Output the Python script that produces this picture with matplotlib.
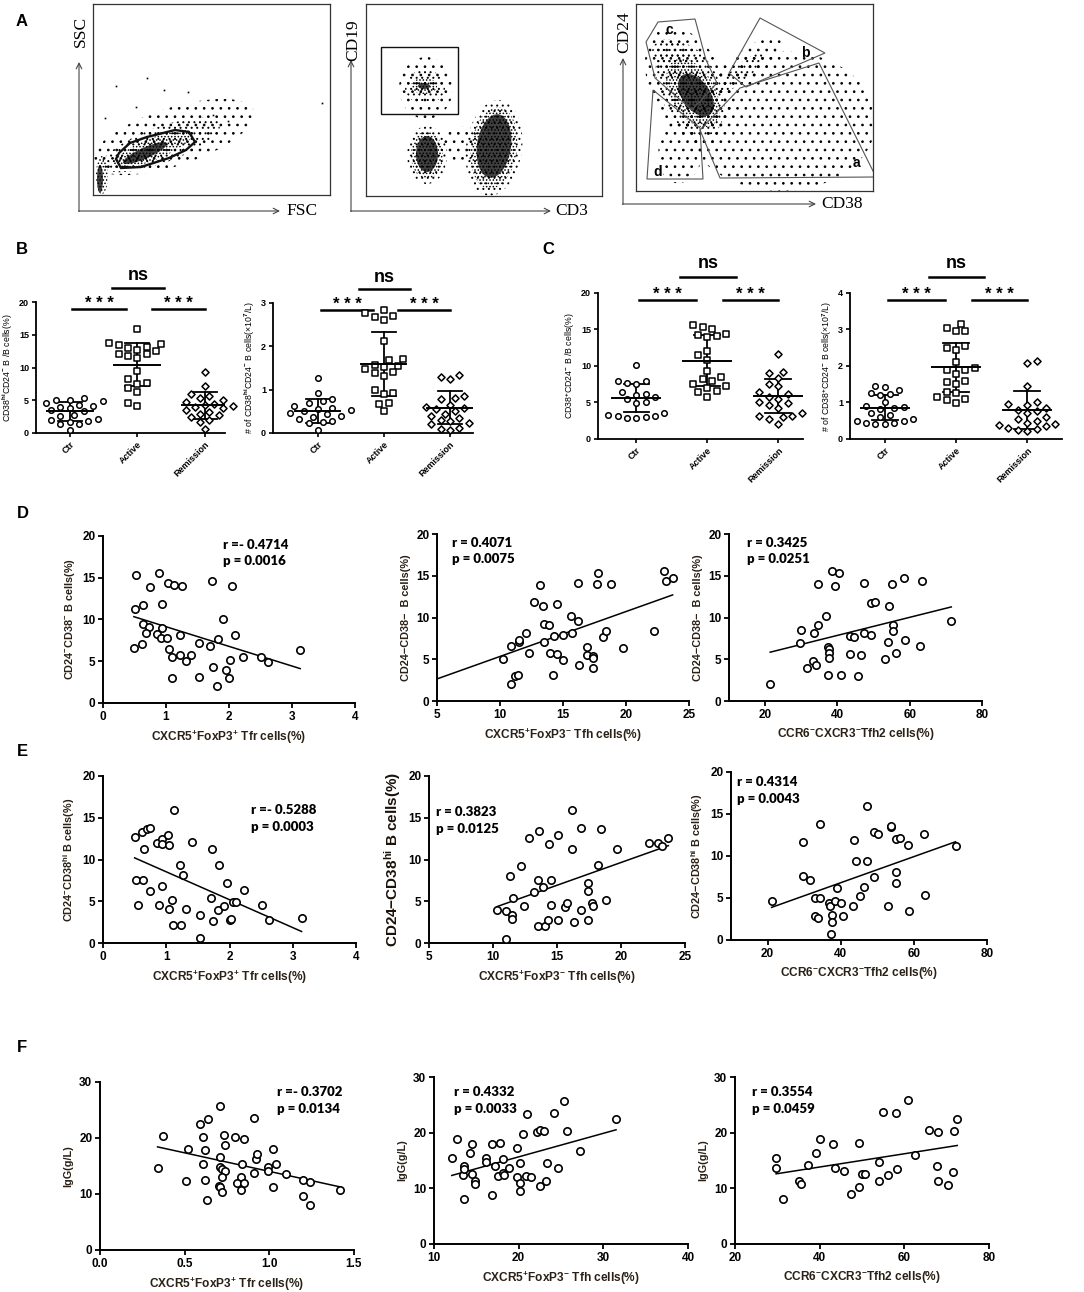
import numpy as np
import matplotlib
matplotlib.use('Agg')
import matplotlib.pyplot as plt
from matplotlib.patches import Ellipse, Polygon, Rectangle
from matplotlib.transforms import blended_transform_factory

plt.rcParams['font.family'] = ['Liberation Sans', 'DejaVu Sans']
plt.rcParams['font.weight'] = 'bold'
plt.rcParams['mathtext.fontset'] = 'custom'
plt.rcParams['mathtext.rm'] = 'Liberation Sans:bold'
plt.rcParams['mathtext.it'] = 'Liberation Sans:bold'
plt.rcParams['mathtext.bf'] = 'Liberation Sans:bold'
plt.rcParams['mathtext.default'] = 'bf'
plt.rcParams['hatch.linewidth'] = 0.7

W, H = 1084, 1292

# ---------------- panel A: flow cytometry (populations) -------------
# blobs: (centre x, centre y, width, height, angle, density) in plot-local pixel units
a1_blobs = [(80, 58, 170, 58, 18, 'faint'), (68, 50, 125, 36, 20, 'sparse'),
            (60, 46, 85, 22, 22, 'mid'), (52, 42, 48, 11, 24, 'dense'),
            (9, 20, 12, 38, 0, 'mid'), (7, 16, 6, 28, 0, 'dense')]
a1_dots = [(54, 117), (23, 109), (71, 105), (95, 103), (43, 88), (12, 77), (229, 92), (120, 80), (135, 74)]
a1_gate = [(23, 36), (28, 27), (48, 28), (76, 37), (93, 45), (102, 53), (96, 63),
           (82, 65), (54, 58), (37, 52), (26, 42)]

a2_blobs = [(60, 108, 54, 62, 0, 'faint'), (59, 109, 40, 34, 0, 'sparse'),
            (58, 110, 26, 16, 0, 'mid'), (58, 110, 12, 6, 0, 'dense'),
            (94, 52, 40, 35, 0, 'faint'),
            (61, 41, 40, 58, 0, 'sparse'), (61, 41, 32, 48, 0, 'mid'), (61, 42, 22, 36, 0, 'dense'),
            (128, 48, 56, 96, -8, 'sparse'), (128, 48, 46, 82, -8, 'mid'), (128, 50, 34, 64, -8, 'dense')]
a2_gate_rect = (15, 82, 77, 67)

a3_blobs = [(145, 70, 190, 140, 0, 'vfaint'), (45, 40, 45, 65, -10, 'faint'),
            (52, 105, 125, 75, -65, 'faint'), (54, 102, 100, 60, -65, 'sparse'),
            (57, 98, 75, 44, -60, 'mid'), (60, 96, 48, 28, -55, 'dense'), (35, 135, 40, 30, -30, 'sparse'),
            (110, 124, 90, 30, 40, 'faint'), (105, 118, 60, 16, 40, 'sparse')]
a3_gates = {'c': [(22, 169), (59, 172), (70, 131), (81, 108), (56, 81), (19, 113), (10, 149)],
            'b': [(93, 118), (124, 173), (189, 138), (110, 104)],
            'a': [(104, 103), (183, 128), (240, 14), (84, 13), (64, 61)],
            'd': [(17, 101), (64, 63), (67, 12), (11, 12)]}
a3_gate_labels = {'c': (33, 161), 'b': (169, 138), 'a': (220, 28), 'd': (22, 19)}

# ---------------- panels B, C: group dot plots -----------------
groups = ['Ctr', 'Active', 'Remission']

b1_ctr = [5.4, 5.1, 4.9, 5.0, 4.6, 4.3, 4.1, 4.0, 3.8, 3.5, 3.3, 2.8, 2.6, 2.2, 2.0, 1.8, 1.7, 1.4, 1.3, 0.5]
b1_act = [15.9, 13.8, 13.6, 13.4, 13.2, 13.0, 12.7, 12.5, 12.0, 12.1, 11.8, 11.5, 9.5, 8.2, 7.6, 7.5, 6.8, 6.3, 4.6, 4.1]
b1_rem = [9.3, 7.2, 6.0, 5.6, 5.3, 5.0, 4.8, 4.5, 4.3, 4.1, 4.0, 3.8, 3.5, 3.2, 2.9, 2.7, 2.4, 2.0, 1.7, 0.6]
b1_mean = [3.3, 10.4, 4.2]
b1_sd = [1.5, 3.3, 2.0]

b2_ctr = [1.28, 0.93, 0.78, 0.74, 0.70, 0.63, 0.58, 0.56, 0.52, 0.50, 0.47, 0.43, 0.40, 0.38, 0.33, 0.27, 0.25, 0.22, 0.08]
b2_act = [2.83, 2.78, 2.70, 2.68, 2.60, 2.12, 1.70, 1.68, 1.58, 1.55, 1.52, 1.48, 1.40, 1.38, 1.32, 1.00, 0.93, 0.90, 0.70, 0.68, 0.50]
b2_rem = [1.35, 1.30, 1.25, 0.85, 0.80, 0.78, 0.65, 0.60, 0.58, 0.55, 0.50, 0.45, 0.40, 0.35, 0.30, 0.28, 0.22, 0.20, 0.12, 0.10, 0.08]
b2_mean = [0.50, 1.60, 0.58]
b2_sd = [0.28, 0.74, 0.38]

c1_ctr = [10.2, 8.0, 7.9, 7.7, 7.5, 6.5, 6.2, 6.0, 5.8, 5.5, 5.1, 4.9, 3.5, 3.3, 3.2, 3.1, 3.0, 2.9, 2.9]
c1_act = [15.6, 15.3, 15.0, 14.4, 14.2, 14.1, 14.0, 12.0, 11.5, 10.8, 9.3, 8.5, 8.2, 8.0, 7.5, 7.3, 7.0, 6.6, 6.5, 5.8]
c1_rem = [11.7, 9.2, 9.0, 8.3, 7.6, 7.2, 6.5, 6.2, 5.8, 5.5, 5.0, 4.9, 4.7, 4.3, 3.6, 3.2, 3.1, 3.0, 2.8, 2.0]
c1_mean = [5.6, 10.7, 5.85]
c1_sd = [1.95, 3.5, 2.35]

c2_ctr = [1.45, 1.42, 1.35, 1.25, 1.22, 1.20, 1.00, 0.90, 0.88, 0.85, 0.82, 0.70, 0.65, 0.60, 0.55, 0.50, 0.50, 0.45, 0.45, 0.42, 0.40]
c2_act = [3.15, 3.05, 2.95, 2.95, 2.55, 2.50, 2.45, 2.10, 1.95, 1.90, 1.88, 1.78, 1.60, 1.55, 1.50, 1.30, 1.25, 1.15, 1.10, 1.08, 0.98]
c2_rem = [2.15, 2.08, 1.45, 1.00, 0.95, 0.92, 0.85, 0.80, 0.78, 0.70, 0.60, 0.55, 0.50, 0.45, 0.40, 0.38, 0.35, 0.30, 0.28, 0.25, 0.22]
c2_mean = [0.86, 1.96, 0.80]
c2_sd = [0.35, 0.66, 0.52]

# ---------------- panels D, E, F: correlations -----------------
d1_pts = [(0.53, 15.3), (0.89, 15.6), (0.75, 13.9), (1.03, 14.4), (1.13, 14.1), (1.25, 14.0), (1.73, 14.6),
          (2.05, 14.0), (0.51, 11.3), (0.64, 11.7), (0.94, 11.9), (1.90, 10.1), (0.64, 9.5), (0.73, 9.1),
          (0.94, 9.0), (0.69, 8.4), (0.85, 8.3), (0.92, 7.8), (1.02, 7.8), (1.22, 8.1), (1.83, 7.7),
          (2.09, 8.2), (0.49, 6.6), (0.62, 7.1), (1.04, 6.5), (1.53, 7.2), (1.70, 6.8), (1.10, 5.5),
          (1.23, 5.8), (1.40, 5.7), (1.31, 5.0), (2.22, 5.5), (2.51, 5.5), (2.62, 4.9), (2.01, 5.1),
          (1.74, 4.3), (1.95, 3.9), (2.00, 3.0), (1.53, 3.1), (1.09, 3.0), (1.81, 2.0), (3.13, 6.4)]
d2_pts = [(10.2, 5.0), (10.9, 2.0), (10.9, 6.6), (11.2, 3.0), (11.4, 3.1), (11.5, 7.1), (11.5, 7.3),
          (12.1, 8.2), (12.3, 5.8), (12.7, 11.9), (13.2, 13.9), (13.4, 11.4), (13.5, 9.2), (13.5, 7.1),
          (13.9, 9.1), (14.0, 5.8), (14.2, 3.1), (14.3, 7.8), (14.5, 11.6), (14.5, 5.6), (15.0, 7.9),
          (15.0, 4.9), (15.6, 10.2), (15.7, 8.2), (16.2, 9.6), (16.2, 14.1), (16.3, 4.3), (16.9, 6.5),
          (16.9, 5.5), (17.4, 5.4), (17.4, 5.1), (17.4, 3.9), (17.8, 15.3), (17.7, 14.0), (18.8, 14.0),
          (18.2, 7.7), (18.4, 8.4), (19.8, 6.4), (22.2, 8.4), (23.0, 15.6), (23.2, 14.4), (23.7, 14.7)]
d3_pts = [(21.4, 2.0), (29.7, 6.9), (30.0, 8.5), (31.7, 3.9), (33.2, 4.8), (33.4, 8.1), (34.0, 4.3),
          (34.6, 9.1), (34.6, 14.0), (36.9, 10.2), (37.4, 3.1), (37.5, 6.5), (37.7, 6.2), (37.7, 5.7),
          (37.8, 5.1), (38.5, 15.6), (39.4, 13.8), (40.3, 15.3), (40.9, 3.1), (43.5, 7.8), (43.5, 5.6),
          (44.5, 7.7), (45.6, 3.0), (46.5, 5.5), (47.4, 8.2), (47.4, 14.1), (49.4, 7.9), (49.4, 11.7),
          (50.3, 11.9), (53.2, 5.0), (53.9, 7.1), (54.2, 11.4), (55.2, 14.0), (55.4, 9.1), (55.4, 8.4),
          (56.3, 5.8), (58.3, 14.7), (58.8, 7.3), (62.8, 6.6), (63.3, 14.4), (71.5, 9.6)]
e1_pts = [(0.50, 12.7), (0.62, 13.3), (0.70, 13.6), (0.74, 13.8), (0.65, 11.2), (0.85, 12.0), (0.93, 12.5),
          (0.93, 11.8), (1.03, 12.9), (1.04, 11.7), (1.13, 15.9), (1.41, 12.1), (1.73, 11.3), (1.22, 9.3),
          (1.26, 8.1), (1.83, 9.3), (0.52, 7.6), (0.64, 7.6), (0.75, 6.2), (0.94, 6.8), (1.96, 7.2),
          (0.55, 4.5), (0.89, 4.5), (1.04, 4.1), (1.09, 5.2), (1.32, 4.1), (1.11, 2.1), (1.24, 2.1),
          (1.54, 3.4), (1.70, 5.4), (1.74, 2.6), (1.53, 0.6), (1.82, 3.9), (1.92, 4.4), (2.00, 2.8),
          (2.03, 2.9), (2.06, 4.9), (2.11, 4.9), (2.23, 6.3), (2.52, 4.6), (2.63, 2.8), (3.14, 3.0)]
e2_pts = [(10.3, 4.0), (11.0, 0.5), (11.0, 3.8), (11.3, 8.0), (11.5, 3.4), (11.5, 2.9), (11.6, 5.4),
          (12.4, 4.4), (12.2, 9.2), (12.8, 12.6), (13.2, 6.1), (13.5, 7.5), (13.6, 13.4), (13.5, 2.0),
          (13.9, 6.7), (14.1, 2.0), (14.3, 2.7), (14.4, 11.8), (14.5, 4.6), (14.5, 7.5), (15.1, 2.7),
          (15.1, 12.9), (15.6, 4.3), (15.8, 4.8), (16.2, 15.9), (16.2, 11.2), (16.3, 2.5), (16.9, 13.8),
          (16.9, 4.0), (17.4, 7.2), (17.4, 6.2), (17.4, 2.8), (17.7, 4.8), (17.8, 4.4), (18.4, 13.6),
          (18.2, 9.3), (18.8, 5.1), (19.7, 11.3), (22.2, 12.0), (22.9, 12.0), (23.2, 11.6), (23.7, 12.6)]
e3_pts = [(21.1, 4.65), (29.7, 11.7), (29.8, 7.6), (31.5, 7.2), (33.1, 5.0), (33.1, 2.9), (33.8, 2.6),
          (34.4, 5.0), (34.4, 13.8), (36.7, 4.45), (37.2, 4.1), (37.7, 3.0), (37.7, 2.1), (37.4, 0.7),
          (38.4, 4.6), (39.0, 6.2), (40.1, 4.45), (40.7, 2.8), (43.4, 4.0), (43.5, 11.85), (44.3, 9.35),
          (45.4, 5.2), (46.4, 6.3), (47.3, 9.35), (47.1, 15.9), (49.0, 12.9), (49.2, 7.55), (50.1, 12.6),
          (53.0, 4.1), (53.8, 13.4), (53.8, 13.6), (55.0, 8.15), (55.1, 12.0), (55.1, 6.8), (56.2, 12.1),
          (58.4, 11.3), (58.6, 3.4), (62.7, 12.6), (63.1, 5.4), (71.4, 11.2)]
f1_pts = [(0.34, 14.7), (0.37, 20.3), (0.51, 12.4), (0.52, 18.1), (0.59, 22.5), (0.64, 23.4), (0.61, 20.2),
          (0.62, 17.9), (0.61, 15.3), (0.62, 12.5), (0.63, 8.9), (0.71, 25.7), (0.71, 16.6), (0.71, 14.9),
          (0.72, 14.4), (0.74, 14.1), (0.72, 13.1), (0.70, 11.4), (0.71, 11.3), (0.72, 10.4), (0.73, 20.5),
          (0.74, 18.7), (0.80, 20.1), (0.85, 19.8), (0.84, 15.3), (0.83, 13.0), (0.81, 12.0), (0.85, 12.0),
          (0.83, 10.7), (0.91, 23.6), (0.92, 16.2), (0.93, 17.2), (0.91, 13.7), (0.99, 14.9), (0.99, 14.1),
          (1.02, 18.0), (1.04, 15.3), (1.02, 11.3), (1.10, 13.6), (1.20, 12.5), (1.20, 9.6), (1.24, 8.1),
          (1.24, 12.2), (1.42, 10.8)]
f2_pts = [(12.1, 15.4), (12.7, 18.8), (13.4, 12.4), (13.5, 14.0), (13.5, 13.4), (13.5, 8.0), (14.3, 16.3),
          (14.5, 17.9), (14.5, 12.6), (14.9, 11.3), (14.9, 10.7), (16.1, 15.5), (16.1, 14.8), (16.9, 17.9),
          (16.9, 8.8), (17.2, 14.0), (17.6, 12.2), (17.8, 18.1), (18.2, 15.2), (18.2, 12.8), (18.3, 12.4),
          (18.9, 13.7), (19.8, 17.3), (19.8, 12.1), (20.1, 11.0), (20.1, 9.5), (20.2, 14.6), (20.5, 19.7),
          (20.9, 12.2), (21.0, 23.4), (21.4, 12.1), (22.2, 20.1), (22.5, 20.4), (23.0, 20.3), (22.5, 10.4),
          (23.2, 11.4), (23.4, 14.6), (24.2, 23.6), (24.7, 13.6), (25.4, 25.7), (25.7, 20.3), (27.3, 16.7),
          (31.5, 22.4)]
f3_pts = [(29.7, 13.7), (29.8, 15.4), (31.4, 8.1), (35.2, 11.4), (35.6, 10.8), (37.3, 14.2), (39.1, 16.3),
          (40.0, 18.8), (43.2, 17.9), (43.6, 13.6), (45.7, 13.2), (47.5, 8.9), (49.3, 18.1), (49.3, 10.3),
          (50.1, 12.5), (50.6, 12.5), (54.0, 14.8), (54.0, 11.4), (55.0, 23.7), (56.2, 12.4), (58.1, 23.6),
          (58.3, 13.4), (60.9, 25.8), (62.6, 16.0), (65.8, 20.5), (68.0, 20.2), (67.8, 14.1), (68.0, 11.3),
          (70.4, 10.6), (71.5, 12.9), (71.7, 20.3), (72.5, 22.5)]

stats = {'d1': 'r =- 0.4714\np = 0.0016', 'd2': 'r = 0.4071\np = 0.0075', 'd3': 'r = 0.3425\np = 0.0251',
         'e1': 'r =- 0.5288\np = 0.0003', 'e2': 'r = 0.3823\np = 0.0125', 'e3': 'r = 0.4314\np = 0.0043',
         'f1': 'r =- 0.3702\np = 0.0134', 'f2': 'r = 0.4332\np = 0.0033', 'f3': 'r = 0.3554\np = 0.0459'}

fig = plt.figure(figsize=(W / 100, H / 100), dpi=100)
fig.patch.set_facecolor('white')


def ax_px(l, t, r, b):
    return fig.add_axes([l / W, 1 - b / H, (r - l) / W, (b - t) / H])


def bold_ticks(ax):
    for lbl in ax.get_xticklabels() + ax.get_yticklabels():
        lbl.set_fontweight('bold')


HATCH = {'vfaint': '..', 'faint': '..', 'sparse': '...', 'mid': '.....'}


def flow_plot(rect, blobs, dots=(), gates=(), gate_lw=0.8, gate_color='#555555'):
    ax = ax_px(*rect)
    w, h = rect[2] - rect[0], rect[3] - rect[1]
    ax.set_xlim(0, w)
    ax.set_ylim(0, h)
    ax.set_xticks([])
    ax.set_yticks([])
    for s in ax.spines.values():
        s.set_linewidth(0.9)
        s.set_color('#333333')
    for cx, cy, bw, bh, ang, lev in blobs:
        if lev == 'dense':
            e = Ellipse((cx, cy), bw, bh, angle=ang, facecolor='black', edgecolor='none', alpha=0.75)
        else:
            e = Ellipse((cx, cy), bw, bh, angle=ang, facecolor='none', edgecolor='black',
                        lw=0, hatch=HATCH[lev])
        ax.add_patch(e)
    if dots:
        dx, dy = zip(*dots)
        ax.plot(dx, dy, 's', ms=1.2, color='black', mew=0)
    for g in gates:
        ax.add_patch(Polygon(g, closed=True, fill=False, lw=gate_lw, edgecolor=gate_color))
    return ax


def swarm(vals, ppy, ppx, d):
    vals = np.asarray(vals, float)
    order = np.argsort(vals)
    pts = []
    offs = np.zeros(len(vals))
    flip = 1
    for i in order:
        y = vals[i] * ppy
        k = 0
        found = None
        while found is None:
            cands = [0.0] if k == 0 else [flip * k * d * 0.6, -flip * k * d * 0.6]
            for c in cands:
                if all((c - px) ** 2 + (y - py) ** 2 >= d * d for px, py in pts):
                    found = c
                    break
            k += 1
        flip = -flip
        pts.append((found, y))
        offs[i] = found / ppx
    return offs


def group_plot(rect, data, means, sds, ylim, yticks, ylabel, xlim):
    ax = ax_px(*rect)
    ax.set_xlim(*xlim)
    ax.set_ylim(*ylim)
    bb = ax.get_position()
    ppy = bb.height * H / (ylim[1] - ylim[0])
    ppx = bb.width * W / (xlim[1] - xlim[0])
    markers = ['o', 's', 'D']
    sizes = [16, 18, 13]
    for i, (vals, m, s) in enumerate(zip(data, means, sds)):
        offs = swarm(vals, ppy, ppx, 7.8)
        ax.plot([i, i], [m - s, m + s], color='black', lw=1.3, zorder=2)
        for yy in (m - s, m + s):
            ax.plot([i - 0.18, i + 0.18], [yy, yy], color='black', lw=1.3, zorder=2)
        ax.scatter(i + offs, vals, marker=markers[i], s=sizes[i], facecolor='white',
                   edgecolor='black', linewidth=1.1, zorder=3, clip_on=False)
        ax.plot([i - 0.34, i + 0.34], [m, m], color='black', lw=1.4, zorder=4)
    ax.spines[['top', 'right']].set_visible(False)
    ax.spines[['left', 'bottom']].set_linewidth(1.3)
    ax.set_yticks(yticks)
    ax.set_xticks(range(3))
    ax.set_xticklabels(groups, rotation=45, ha='right', rotation_mode='anchor', fontsize=6.5)
    ax.tick_params(labelsize=6.5, width=1.2, length=3, pad=2)
    bold_ticks(ax)
    ax.set_ylabel(ylabel, fontsize=6.3, labelpad=3)
    tr = blended_transform_factory(ax.transData, ax.transAxes)
    for x0, x1 in ((0.04, 0.84), (1.22, 2.0)):
        ax.plot([x0, x1], [0.95, 0.95], color='black', lw=1.8, transform=tr, clip_on=False)
        ax.text((x0 + x1) / 2, 0.99, '* * *', transform=tr, ha='center', va='center', fontsize=12)
    ax.plot([0.62, 1.4], [1.11, 1.11], color='black', lw=1.8, transform=tr, clip_on=False)
    ax.text(1.01, 1.2, 'ns', transform=tr, ha='center', va='center', fontsize=13)
    return ax


def corr_plot(rect, pts, xlim, xticks, xticklabels, ylim, yticks, xlabel, ylabel, stat, stat_xy,
              line_from=None, ylabel_kw=None):
    ax = ax_px(*rect)
    x, y = map(np.array, zip(*pts))
    ax.scatter(x, y, s=28, facecolor='white', edgecolor='black', linewidth=1.2, zorder=3, clip_on=False)
    k, b = np.polyfit(x, y, 1)
    x0 = x.min() if line_from is None else line_from
    xs = np.array([x0, x.max()])
    ax.plot(xs, k * xs + b, color='black', lw=1.1, zorder=2)
    ax.set_xlim(*xlim)
    ax.set_ylim(*ylim)
    ax.set_xticks(xticks)
    ax.set_xticklabels(xticklabels)
    ax.set_yticks(yticks)
    ax.spines[['top', 'right']].set_visible(False)
    ax.spines[['left', 'bottom']].set_linewidth(1.4)
    ax.tick_params(labelsize=8.5, width=1.3, length=3.5, pad=2)
    bold_ticks(ax)
    ax.set_xlabel(xlabel, fontsize=8.6, color='#2a2015', labelpad=4, fontweight='bold')
    kw = dict(fontsize=7.8, color='#2a2015', fontweight='bold')
    if ylabel_kw:
        kw.update(ylabel_kw)
    ax.set_ylabel(ylabel, labelpad=4, **kw)
    ax.text(stat_xy[0], stat_xy[1], stat, transform=ax.transAxes, ha='left', va='top',
            fontsize=9.5, family=['Lato', 'DejaVu Sans'], weight='heavy', linespacing=1.45)
    return ax


# ---- A ----
flow_plot((93, 4, 330, 195), a1_blobs, a1_dots, [a1_gate], gate_lw=1.7, gate_color='#111111')
ax_a2 = flow_plot((366, 4, 602, 196), a2_blobs)
ax_a2.add_patch(Rectangle(a2_gate_rect[:2], a2_gate_rect[2], a2_gate_rect[3], fill=False, lw=1.0,
                          edgecolor='#111111'))
ax_a3 = flow_plot((636, 4, 873, 191), a3_blobs, gates=list(a3_gates.values()), gate_lw=0.8)
for lab, (gx, gy) in a3_gate_labels.items():
    ax_a3.text(gx, gy, lab, ha='center', va='center', fontsize=10, fontweight='bold')

# ---- B, C ----
group_plot((36, 302, 225, 433), [b1_ctr, b1_act, b1_rem], b1_mean, b1_sd, (0, 20), [0, 5, 10, 15, 20],
           r'CD38$^{hi}$CD24$^{-}$ B /B cells(%)', (-0.5, 2.3))
group_plot((273, 303, 473, 433), [b2_ctr, b2_act, b2_rem], b2_mean, b2_sd, (0, 3), [0, 1, 2, 3],
           r'# of CD38$^{hi}$CD24$^{-}$ B cells(×10$^{7}$/L)', (-0.68, 2.35))
group_plot((598, 293, 803, 439), [c1_ctr, c1_act, c1_rem], c1_mean, c1_sd, (0, 20), [0, 5, 10, 15, 20],
           r'CD38$^{+}$CD24$^{-}$ B /B cells(%)', (-0.54, 2.35))
group_plot((850, 293, 1062, 439), [c2_ctr, c2_act, c2_rem], c2_mean, c2_sd, (0, 4), [0, 1, 2, 3, 4],
           r'# of CD38$^{+}$CD24$^{-}$ B cells(×10$^{7}$/L)', (-0.49, 2.49))

# ---- D, E, F ----
xl_tfr = r'CXCR5$^{+}$FoxP3$^{+}$ Tfr cells(%)'
xl_tfh = r'CXCR5$^{+}$FoxP3$^{-}$ Tfh cells(%)'
xl_tfh2 = r'CCR6$^{-}$CXCR3$^{-}$Tfh2 cells(%)'
t04 = [0, 1, 2, 3, 4]
t525 = [5, 10, 15, 20, 25]
t80 = [20, 40, 60, 80]
y20 = [0, 5, 10, 15, 20]
y30 = [0, 10, 20, 30]

corr_plot((103, 536, 355, 703), d1_pts, (0, 4), t04, t04, (0, 20), y20, xl_tfr,
          r'CD24$^{-}$CD38$^{-}$ B cells(%)', stats['d1'], (0.475, 0.985))
corr_plot((437, 534, 689, 701), d2_pts, (5, 25), t525, t525, (0, 20), y20, xl_tfh,
          'CD24−CD38−  B cells(%)', stats['d2'], (0.06, 0.985), line_from=5)
corr_plot((729, 534, 982, 701), d3_pts, (10, 80), t80, t80, (0, 20), y20, xl_tfh2,
          'CD24−CD38−  B cells(%)', stats['d3'], (0.07, 0.985))

corr_plot((103, 776, 356, 943), e1_pts, (0, 4), t04, t04, (0, 20), y20, xl_tfr,
          r'CD24$^{-}$CD38$^{hi}$ B cells(%)', stats['e1'], (0.585, 0.83))
corr_plot((429, 776, 685, 943), e2_pts, (5, 25), t525, t525, (0, 20), y20, xl_tfh,
          r'CD24−CD38$^{hi}$ B cells(%)', stats['e2'], (0.028, 0.82),
          ylabel_kw=dict(fontsize=11, color='#1a1208'))
corr_plot((731, 772, 987, 940), e3_pts, (10, 80), t80, t80, (0, 20), y20, xl_tfh2,
          r'CD24−CD38$^{hi}$ B cells(%)', stats['e3'], (0.024, 0.975))

corr_plot((100, 1082, 354, 1250), f1_pts, (0, 1.5), [0, 0.5, 1.0, 1.5], ['0.0', '0.5', '1.0', '1.5'],
          (0, 30), y30, xl_tfr, 'IgG(g/L)', stats['f1'], (0.695, 0.975))
corr_plot((434, 1077, 688, 1244), f2_pts, (10, 40), [10, 20, 30, 40], [10, 20, 30, 40], (0, 30), y30,
          xl_tfh, 'IgG(g/L)', stats['f2'], (0.079, 0.945))
corr_plot((735, 1077, 989, 1244), f3_pts, (20, 80), t80, t80, (0, 30), y30, xl_tfh2, 'IgG(g/L)',
          stats['f3'], (0.065, 0.945))

# ---- overlay: panel letters, flow axes arrows and labels ----
cv = fig.add_axes([0, 0, 1, 1])
cv.set_xlim(0, W)
cv.set_ylim(H, 0)
cv.axis('off')
for lab, (lx, ly) in {'A': (22, 22), 'B': (22, 250), 'C': (548, 250), 'D': (23, 513),
                      'E': (22, 752), 'F': (22, 1048)}.items():
    cv.text(lx, ly, lab, ha='center', va='center', fontsize=12, fontweight='bold')

arrows = [(79, 211, 62, 280), (351, 211, 60, 551), (623, 204, 58, 816)]
for x0, y0, ytop, xend in arrows:
    cv.annotate('', xy=(x0, ytop), xytext=(x0, y0 + 0.5),
                arrowprops=dict(arrowstyle='->', lw=0.8, color='#444444', shrinkA=0, shrinkB=0))
    cv.annotate('', xy=(xend, y0), xytext=(x0 - 0.5, y0),
                arrowprops=dict(arrowstyle='->', lw=0.8, color='#444444', shrinkA=0, shrinkB=0))

serif = ['Liberation Serif', 'DejaVu Serif']
for txt, (tx, ty), rot in [('FSC', (302, 211), 0), ('SSC', (81, 31), 90), ('CD3', (572, 211), 0),
                           ('CD19', (353, 40), 90), ('CD38', (842, 204), 0), ('CD24', (624, 32), 90)]:
    cv.text(tx, ty, txt, ha='center', va='center', rotation=rot, fontsize=12.5, family=serif,
            fontweight='normal')

fig.savefig('out.png', dpi=100)
